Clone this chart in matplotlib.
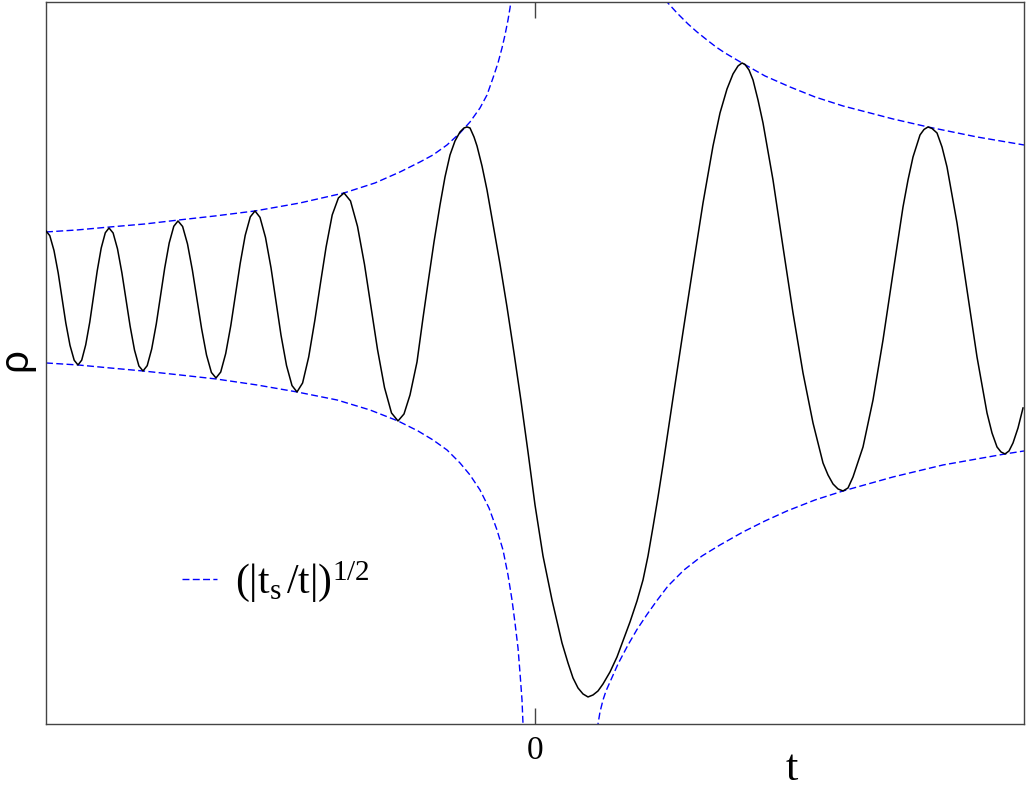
import matplotlib
matplotlib.use("Agg")
import matplotlib.pyplot as plt
from matplotlib.lines import Line2D

plt.rcParams['font.family'] = ['Liberation Serif', 'DejaVu Serif']
plt.rcParams['mathtext.fontset'] = 'custom'
plt.rcParams['mathtext.rm'] = 'Liberation Serif'
plt.rcParams['mathtext.it'] = 'Liberation Serif:italic'
plt.rcParams['mathtext.sf'] = 'Liberation Sans'

# ---- data (t, rho in arbitrary units) ----
t_curve = [-4.890, -4.852, -4.810, -4.768, -4.730, -4.692, -4.650, -4.608, -4.570,
           -4.533, -4.493, -4.452, -4.415, -4.378, -4.338, -4.297, -4.260,
           -4.219, -4.175, -4.131, -4.090, -4.049, -4.005, -3.961, -3.920,
           -3.878, -3.833, -3.787, -3.745, -3.703, -3.658, -3.612, -3.570,
           -3.524, -3.475, -3.426, -3.380, -3.334, -3.285, -3.236, -3.190,
           -3.143, -3.093, -3.042, -2.995, -2.948, -2.898, -2.847, -2.800,
           -2.750, -2.695, -2.640, -2.590, -2.540, -2.485, -2.430, -2.380,
           -2.324, -2.263, -2.201, -2.145, -2.089, -2.028, -1.966, -1.910,
           -1.845, -1.775, -1.705, -1.640, -1.575, -1.505, -1.435, -1.370,
           -1.310, -1.250, -1.180, -1.120, -1.070, -1.010, -0.950, -0.900,
           -0.850, -0.800, -0.750, -0.710, -0.680,
           -0.650, -0.610, -0.580, -0.530, -0.480, -0.420, -0.350, -0.280,
           -0.210, -0.140, -0.070, 0.000, 0.080, 0.170, 0.270, 0.330,
           0.380, 0.430, 0.480, 0.530,
           0.580, 0.630, 0.680, 0.750, 0.820, 0.950, 1.020, 1.080, 1.130,
           1.180, 1.230, 1.280, 1.380, 1.480, 1.580, 1.680, 1.780, 1.850,
           1.920, 1.980, 2.030, 2.070,
           2.100, 2.140, 2.180, 2.230, 2.280, 2.380, 2.480, 2.580, 2.680,
           2.780, 2.880, 2.930, 2.980, 3.030, 3.080,
           3.130, 3.180, 3.280, 3.380, 3.480, 3.580, 3.680, 3.730, 3.780,
           3.850, 3.890, 3.930,
           3.970, 4.020, 4.070, 4.120, 4.220, 4.320, 4.420, 4.520, 4.570,
           4.620, 4.660, 4.700,
           4.740, 4.780, 4.830, 4.880]
rho_curve = [0.620, 0.573, 0.424, 0.200, -0.050, -0.300, -0.524, -0.673, -0.720,
             -0.672, -0.519, -0.290, -0.035, 0.220, 0.449, 0.602, 0.650,
             0.600, 0.441, 0.201, -0.065, -0.331, -0.571, -0.730, -0.780,
             -0.727, -0.560, -0.309, -0.030, 0.249, 0.500, 0.667, 0.720,
             0.665, 0.490, 0.227, -0.065, -0.357, -0.620, -0.795, -0.850,
             -0.791, -0.606, -0.326, -0.015, 0.296, 0.576, 0.761, 0.820,
             0.756, 0.555, 0.252, -0.085, -0.422, -0.725, -0.926, -0.990,
             -0.900, -0.640, -0.270, 0.100, 0.460, 0.780, 0.950, 1.000,
             0.920, 0.666, 0.285, -0.140, -0.565, -0.946, -1.200, -1.280,
             -1.210, -1.020, -0.690, -0.250, 0.100, 0.510, 0.880, 1.160,
             1.380, 1.520, 1.610, 1.650, 1.660,
             1.650, 1.560, 1.470, 1.270, 1.030, 0.690, 0.290, -0.140,
             -0.600, -1.080, -1.590, -2.120, -2.630, -3.070, -3.500, -3.700,
             -3.850, -3.950, -4.010, -4.040,
             -4.020, -3.980, -3.910, -3.790, -3.640, -3.290, -3.080, -2.870, -2.630,
             -2.340, -2.040, -1.720, -1.050, -0.390, 0.260, 0.900, 1.470, 1.800,
             2.040, 2.190, 2.270, 2.300,
             2.285, 2.230, 2.130, 1.930, 1.700, 1.130, 0.460, -0.200, -0.800,
             -1.300, -1.700, -1.820, -1.910, -1.960, -1.980,
             -1.950, -1.840, -1.540, -1.070, -0.470, 0.200, 0.860, 1.130, 1.360,
             1.580, 1.635, 1.660,
             1.645, 1.600, 1.460, 1.260, 0.700, 0.030, -0.640, -1.200, -1.400,
             -1.540, -1.590, -1.610,
             -1.580, -1.500, -1.350, -1.150]

t_env_ul = [-4.89, -4.58, -4.25, -3.90, -3.56, -3.20, -2.80, -2.35, -1.91, -1.60,
            -1.35, -1.15, -1.02, -0.88, -0.75, -0.65, -0.55, -0.48, -0.42, -0.37,
            -0.33, -0.30, -0.27, -0.25, -0.235]
rho_env_ul = [0.61, 0.63, 0.66, 0.69, 0.73, 0.77, 0.82, 0.90, 1.00, 1.10,
              1.21, 1.31, 1.38, 1.48, 1.60, 1.71, 1.85, 1.98, 2.15, 2.30,
              2.45, 2.58, 2.73, 2.85, 2.96]

t_env_ll = [-4.89, -4.57, -4.25, -3.92, -3.55, -3.19, -2.78, -2.38, -1.98, -1.65,
            -1.37, -1.17, -1.02, -0.88, -0.75, -0.65, -0.55, -0.46, -0.38, -0.32,
            -0.27, -0.23, -0.20, -0.17, -0.15, -0.13, -0.12, -0.115]
rho_env_ll = [-0.70, -0.72, -0.75, -0.78, -0.82, -0.86, -0.92, -0.99, -1.07, -1.17,
              -1.28, -1.38, -1.47, -1.57, -1.70, -1.82, -1.97, -2.15, -2.37, -2.57,
              -2.82, -3.07, -3.30, -3.55, -3.80, -4.07, -4.31, -4.47]

t_env_ur = [1.28, 1.32, 1.42, 1.53, 1.62, 1.72, 1.81, 1.90, 2.07, 2.30,
            2.55, 2.80, 3.08, 3.35, 3.58, 3.93, 4.42, 4.89]
rho_env_ur = [2.97, 2.91, 2.80, 2.69, 2.61, 2.53, 2.46, 2.40, 2.30, 2.17,
              2.06, 1.96, 1.87, 1.80, 1.74, 1.66, 1.56, 1.48]

t_env_lr = [0.625, 0.63, 0.65, 0.68, 0.71, 0.75, 0.83, 0.93, 1.02, 1.12,
            1.22, 1.33, 1.49, 1.67, 1.85, 2.08, 2.30, 2.52, 2.80, 3.08,
            3.33, 3.58, 4.08, 4.70, 4.89]
rho_env_lr = [-4.47, -4.31, -4.19, -4.07, -3.98, -3.89, -3.71, -3.52, -3.365, -3.215,
              -3.075, -2.93, -2.77, -2.63, -2.52, -2.39, -2.28, -2.18, -2.07, -1.98,
              -1.91, -1.84, -1.72, -1.61, -1.58]

x_ticks = [0]
x_tick_labels = ['0']
x_label = r'$\mathrm{t}$'
y_label = r'$\mathsf{\rho}$'
legend_label = r'$(|\mathrm{t}_{\mathrm{s}}\,/\mathrm{t}|)^{1/2}$'

# ---- figure ----
fig = plt.figure(figsize=(10.27, 7.92), dpi=100)
ax = fig.add_axes([0.0445, 0.0859, 0.9521, 0.9120])

env_kw = dict(color='#0000ff', lw=1.0, dashes=(5.0, 2.4))
ax.plot(t_curve, rho_curve, color='black', lw=1.1, zorder=3,
        solid_joinstyle='round')
ax.plot(t_env_ul, rho_env_ul, **env_kw)
ax.plot(t_env_ll, rho_env_ll, **env_kw)
ax.plot(t_env_ur, rho_env_ur, **env_kw)
ax.plot(t_env_lr, rho_env_lr, **env_kw)

ax.set_xlim(-4.893, 4.885)
ax.set_ylim(-4.31, 2.913)

ax.set_xticks(x_ticks)
ax.set_xticklabels(x_tick_labels, fontsize=24)
ax.set_yticks([])
ax.tick_params(axis='x', direction='in', length=11.5, width=1.0, color='#444444',
               top=True, bottom=True, pad=8)
for s in ax.spines.values():
    s.set_color('#444444')
    s.set_linewidth(1.0)

ax.set_xlabel(x_label, fontsize=32)
ax.xaxis.set_label_coords(0.763, -0.034)
ax.set_ylabel(y_label, fontsize=29, labelpad=5)

handle = Line2D([], [], **env_kw)
ax.legend([handle], [legend_label], loc='center left', bbox_to_anchor=(0.1394, 0.197),
          frameon=False, fontsize=30, handlelength=0.84, handletextpad=0.42,
          borderpad=0, borderaxespad=0)

fig.savefig('out.png', dpi=100)
